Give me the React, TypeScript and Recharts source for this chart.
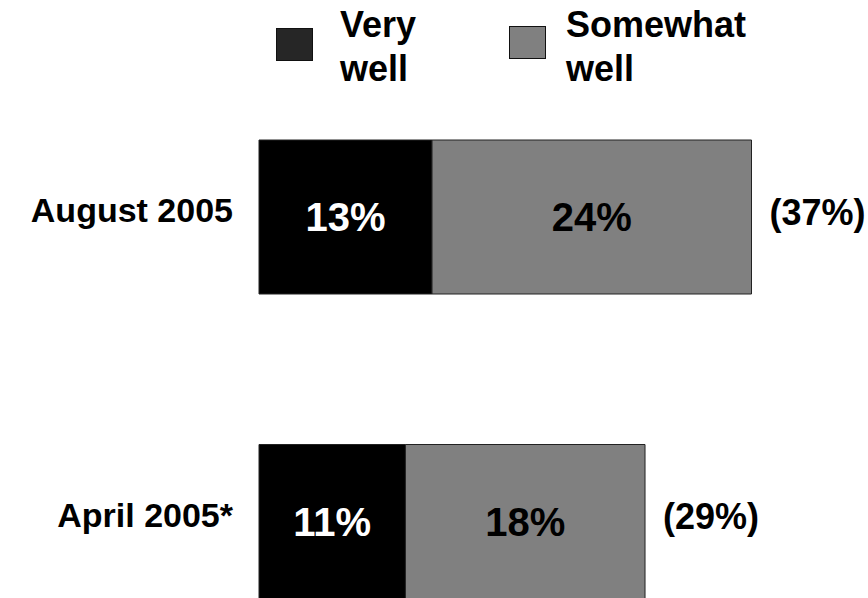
import { BarChart, Bar, XAxis, YAxis, Legend, LabelList } from "recharts";

const periods = ["August 2005", "April 2005*"];
const veryWell = [13, 11];
const somewhatWell = [24, 18];
const totals = [37, 29];

const data = periods.map((name, i) => ({
  name,
  veryWell: veryWell[i],
  somewhatWell: somewhatWell[i],
  total: totals[i],
}));

const FONT = "'Liberation Sans', Arial, Helvetica, sans-serif";

// legend swatches sit above the bars, each label broken onto two lines
const legendSpots: Record<string, any> = {
  "Very well": { left: 276, top: 28, fill: "#262626", textLeft: 340 },
  "Somewhat well": { left: 509, top: 26, fill: "#808080", textLeft: 566 },
};

function ChartLegend({ payload }: any) {
  return (
    <div style={{ position: "relative", width: 868, height: 100 }}>
      {(payload || []).map((entry: any) => {
        const spot = legendSpots[entry.value];
        if (!spot) return null;
        return (
          <div key={entry.value}>
            <div
              style={{
                position: "absolute",
                left: spot.left,
                top: spot.top,
                width: 35,
                height: 31,
                background: spot.fill,
                border: "1.5px solid #111",
              }}
            />
            <div
              style={{
                position: "absolute",
                left: spot.textLeft,
                top: 3,
                fontFamily: FONT,
                fontWeight: 700,
                fontSize: 36,
                lineHeight: "44px",
                color: "#000",
                textAlign: "left",
              }}
            >
              {String(entry.value)
                .split(" ")
                .map((w: string) => (
                  <div key={w}>{w}</div>
                ))}
            </div>
          </div>
        );
      })}
    </div>
  );
}

function PeriodTick({ x, y, payload }: any) {
  return (
    <text
      x={x + 1}
      y={y}
      dy="0.14em"
      textAnchor="end"
      fontFamily={FONT}
      fontWeight={700}
      fontSize={34}
      fill="#000"
    >
      {payload.value}
    </text>
  );
}

function TotalLabel({ x, y, width, height, value }: any) {
  return (
    <text
      x={x + width + 18}
      y={y + height / 2}
      dy="0.355em"
      transform="translate(0,-5)"
      textAnchor="start"
      fontFamily={FONT}
      fontWeight={700}
      fontSize={36}
      fill="#000"
    >
      {`(${value}%)`}
    </text>
  );
}

export default function App() {
  return (
    <div
      style={{
        position: "absolute",
        left: 0,
        top: 0,
        width: 868,
        height: 598,
        overflow: "hidden",
        background: "#fff",
      }}
    >
      <BarChart
        width={868}
        height={700}
        data={data}
        layout="vertical"
        margin={{ top: 65, right: 10, left: 0, bottom: 26 }}
      >
        <XAxis type="number" domain={[0, 45]} hide />
        <YAxis
          type="category"
          dataKey="name"
          width={259}
          axisLine={false}
          tickLine={false}
          tickSize={0}
          tickMargin={27}
          tick={<PeriodTick />}
        />
        <Legend
          layout="horizontal"
          verticalAlign="middle"
          align="center"
          wrapperStyle={{ top: 0, left: 0, width: 868, height: 100 }}
          content={<ChartLegend />}
        />
        <Bar
          dataKey="veryWell"
          name="Very well"
          stackId="a"
          fill="#000000"
          stroke="#222"
          strokeWidth={1}
          barSize={154}
          isAnimationActive={false}
        >
          <LabelList
            dataKey="veryWell"
            position="center"
            formatter={(v: any) => `${v}%`}
            fill="#fff"
            fontFamily={FONT}
            fontWeight={700}
            fontSize={40}
          />
        </Bar>
        <Bar
          dataKey="somewhatWell"
          name="Somewhat well"
          stackId="a"
          fill="#808080"
          stroke="#222"
          strokeWidth={1}
          barSize={154}
          isAnimationActive={false}
        >
          <LabelList
            dataKey="somewhatWell"
            position="center"
            formatter={(v: any) => `${v}%`}
            fill="#000"
            fontFamily={FONT}
            fontWeight={700}
            fontSize={40}
          />
          <LabelList dataKey="total" content={<TotalLabel />} />
        </Bar>
      </BarChart>
    </div>
  );
}
